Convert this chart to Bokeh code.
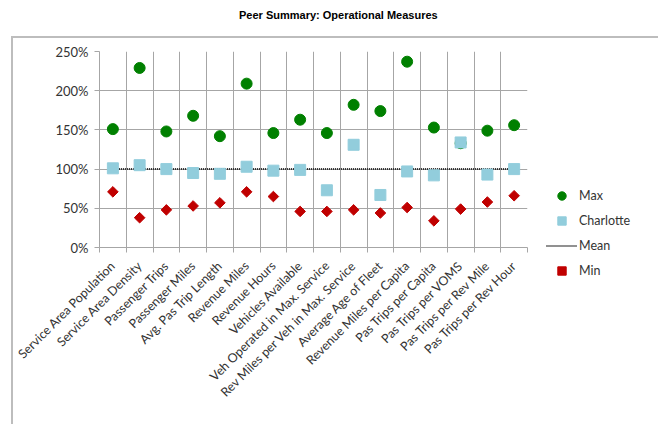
import math
from bokeh.plotting import figure
from bokeh.layouts import column
from bokeh.models import (FixedTicker, PrintfTickFormatter, Legend, LegendItem,
                          Range1d, Div)
from bokeh.embed import file_html
from bokeh.resources import INLINE

categories = ["Service Area Population", "Service Area Density", "Passenger Trips",
              "Passenger Miles", "Avg. Pas Trip Length", "Revenue Miles",
              "Revenue Hours", "Vehicles Available", "Veh Operated in Max. Service",
              "Rev Miles per Veh in Max. Service", "Average Age of Fleet",
              "Revenue Miles per Capita", "Pas Trips per Capita", "Pas Trips per VOMS",
              "Pas Trips per Rev Mile", "Pas Trips per Rev Hour"]
max_vals = [151, 229, 148, 168, 142, 209, 146, 163, 146, 182, 174, 237, 153, 133, 149, 156]
charlotte_vals = [101, 105, 100, 95, 94, 103, 98, 99, 73, 131, 67, 97, 92, 134, 93, 100]
mean_vals = [100, 100, 100, 100, 100, 100, 100, 100, 100, 100, 100, 100, 100, 100, 100, 100]
min_vals = [71, 38, 48, 53, 57, 71, 65, 46, 46, 48, 44, 51, 34, 49, 58, 66]
y_ticks = [0, 50, 100, 150, 200, 250]
title_text = "Peer Summary: Operational Measures"

xs = [i + 0.5 for i in range(len(categories))]
bounds = list(range(len(categories) + 1))

FONT = "Lato"
TXT = "#333333"
GRID = "#a6a6a6"
BORDER = "2px solid #bdbdbd"

title_div = Div(
    text=('<div style="font-family:\'Liberation Sans\';font-weight:bold;font-size:11px;'
          'color:#000;margin-left:239px;margin-top:8px;white-space:nowrap;">'
          + title_text + '</div>'),
    width=654, height=36, margin=0)

p = figure(frame_width=428, frame_height=196, output_backend="svg", toolbar_location=None,
           x_range=Range1d(0, len(categories)), y_range=Range1d(0, 250),
           min_border_left=86, min_border_right=110, min_border_top=13,
           min_border_bottom=177)
p.margin = 0
p.outline_line_color = None

# axes
p.xaxis.ticker = FixedTicker(ticks=xs, minor_ticks=bounds)
p.xaxis.major_label_overrides = {x: c for x, c in zip(xs, categories)}
p.xaxis.major_label_orientation = math.pi / 4
p.xaxis.major_tick_line_color = None
p.xaxis.minor_tick_out = 5
p.xaxis.minor_tick_in = 0
p.xaxis.minor_tick_line_color = GRID
p.xaxis.axis_line_color = GRID
p.xaxis.major_label_text_font = FONT
p.xaxis.major_label_text_font_size = "12.5px"
p.xaxis.major_label_text_color = TXT
p.xaxis.major_label_standoff = 10

p.yaxis.ticker = FixedTicker(ticks=y_ticks)
p.yaxis.formatter = PrintfTickFormatter(format="%d%%")
p.yaxis.minor_tick_line_color = None
p.yaxis.major_tick_out = 5
p.yaxis.major_tick_in = 0
p.yaxis.major_tick_line_color = GRID
p.yaxis.axis_line_color = GRID
p.yaxis.major_label_text_font = FONT
p.yaxis.major_label_text_font_size = "13px"
p.yaxis.major_label_text_color = TXT
p.yaxis.major_label_standoff = 6

p.xgrid.ticker = FixedTicker(ticks=bounds)
p.xgrid.grid_line_color = GRID
p.ygrid.grid_line_color = GRID

r_mean = p.line(xs, mean_vals, line_color="#222222", line_width=2, line_dash="1 1")
r_max = p.scatter(xs, max_vals, marker="circle", size=11, fill_color="#008000",
                  line_color="#008000")
r_ch = p.scatter(xs, charlotte_vals, marker="square", size=11, fill_color="#92cddc",
                 line_color="#92cddc")
r_min = p.scatter(xs, min_vals, marker="square", angle=math.pi / 4, size=7.5,
                  fill_color="#c00000", line_color="#c00000")

legend = Legend(items=[LegendItem(label="Max", renderers=[r_max]),
                       LegendItem(label="Charlotte", renderers=[r_ch]),
                       LegendItem(label="Mean", renderers=[r_mean]),
                       LegendItem(label="Min", renderers=[r_min])],
                location="top_left")
legend.title = " "
legend.title_text_font_size = "10px"
legend.title_standoff = 104
legend.background_fill_alpha = 0
legend.border_line_color = None
legend.padding = 0
legend.margin = 19
legend.spacing = 4
legend.glyph_height = 21
legend.glyph_width = 31
legend.label_standoff = 2
legend.label_text_font = FONT
legend.label_text_font_size = "12.5px"
legend.label_text_color = TXT
p.add_layout(legend, "right")

frame_box = column(p, margin=(0, 0, 0, 11), spacing=0,
                   styles={"border-top": BORDER, "border-left": BORDER,
                           "border-right": BORDER, "overflow": "hidden"})

root = column(title_div, frame_box, spacing=0)
open("out.html", "w").write(file_html(root, INLINE))
